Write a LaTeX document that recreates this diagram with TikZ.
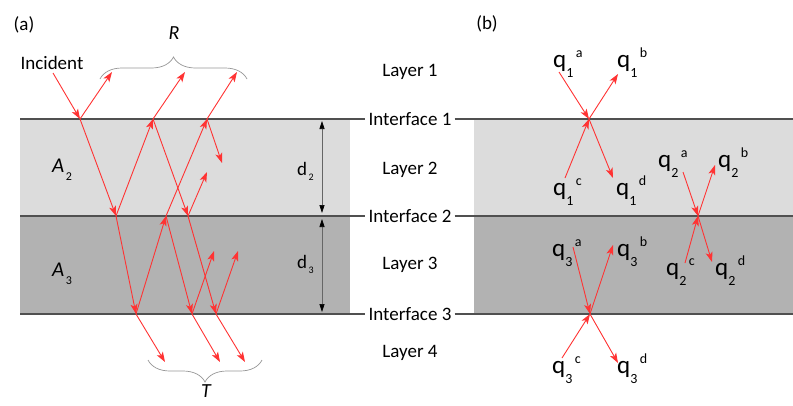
\documentclass[tikz,border=0pt]{standalone}
\usepackage{fontspec}
\setmainfont{Carlito}
\usetikzlibrary{arrows.meta,decorations.pathreplacing}
\definecolor{raycol}{RGB}{255,51,51}
\definecolor{lightlayer}{RGB}{220,220,220}
\definecolor{darklayer}{RGB}{178,178,178}
\definecolor{ifcol}{RGB}{80,80,80}
\definecolor{bracecol}{RGB}{150,150,150}
\newcommand{\qlab}[2]{{\fontsize{25}{25}\selectfont q}\raisebox{-10pt}{\fontsize{14}{14}\selectfont #1}\hspace{2.5pt}\raisebox{10pt}{\fontsize{14}{14}\selectfont #2}}
\newcommand{\Alab}[1]{{\fontsize{21}{21}\selectfont\itshape A}\hspace{1.5pt}\raisebox{-8pt}{\fontsize{12}{12}\selectfont #1}}
\newcommand{\dlab}[1]{d\hspace{1.5pt}\raisebox{-5pt}{\fontsize{10}{10}\selectfont #1}}
\begin{document}
\begin{tikzpicture}[x=1pt,y=-1pt,
  font=\fontsize{19}{22}\selectfont,
  raystyle/.style={draw=raycol, line width=0.9pt, -{Stealth[length=10pt,width=7pt,inset=2.5pt]}},
  ifline/.style={draw=ifcol, line width=1.3pt},
  iflabel/.style={inner sep=3pt, fill=white},
  dim/.style={draw=black!60, line width=0.6pt, {Triangle[length=8pt,width=5pt,color=black]}-{Triangle[length=8pt,width=5pt,color=black]}},
  bracestyle/.style={draw=bracecol, line width=0.7pt, decorate, decoration={brace, amplitude=22pt}},
  qnode/.style={anchor=base west, inner sep=0pt},
  lab/.style={inner sep=0pt}]
\useasboundingbox (0,0) rectangle (793,405);

% layers
\fill[lightlayer] (20,119) rectangle (350,216);
\fill[darklayer] (20,216) rectangle (350,314);
\fill[lightlayer] (474,119) rectangle (793,216);
\fill[darklayer] (474,216) rectangle (793,314);

% labels of interfaces and layers
\node[iflabel] (if1) at (410,119) {Interface 1};
\node[iflabel] (if2) at (410,216) {Interface 2};
\node[iflabel] (if3) at (410,314) {Interface 3};
\node[lab] (ly1) at (410,72) {Layer 1};
\node[lab] (ly2) at (410,170) {Layer 2};
\node[lab] (ly3) at (410,265) {Layer 3};
\node[lab] (ly4) at (410,353) {Layer 4};

\coordinate (L1) at (20,119); \coordinate (E1) at (793,119);
\coordinate (L2) at (20,216); \coordinate (E2) at (793,216);
\coordinate (L3) at (20,314); \coordinate (E3) at (793,314);
\draw[ifline] (L1) -- (if1.west); \draw[ifline] (if1.east) -- (E1);
\draw[ifline] (L2) -- (if2.west); \draw[ifline] (if2.east) -- (E2);
\draw[ifline] (L3) -- (if3.west); \draw[ifline] (if3.east) -- (E3);

% panel labels
\node[lab] (pa) at (24,25) {(a)};
\node[lab] (pb) at (487,24) {(b)};
\node[lab] (inc) at (52,63) {Incident};
\node[lab] (Rl) at (174,33) {\fontsize{20}{20}\selectfont\itshape R};
\node[lab] (Tl) at (206,391) {\fontsize{20}{20}\selectfont\itshape T};
\node[qnode] (A2) at (52,172) {\Alab{2}};
\node[qnode] (A3) at (52,276) {\Alab{3}};
\node[qnode] (d2) at (297,175) {\dlab{2}};
\node[qnode] (d3) at (297,268) {\dlab{3}};

% thickness arrows
\coordinate (d2t) at (322,121); \coordinate (d2b) at (322,213);
\coordinate (d3t) at (322,219); \coordinate (d3b) at (322,312);
\draw[dim] (d2t) -- (d2b);
\draw[dim] (d3t) -- (d3b);

% braces
\coordinate (Rbl) at (100,79); \coordinate (Rbr) at (247,79);
\coordinate (Tbl) at (148,360); \coordinate (Tbr) at (262,360);
\draw[bracestyle] (Rbl) -- (Rbr);
\draw[bracestyle] (Tbr) -- (Tbl);

% rays (a)
\coordinate (P0) at (53,73);
\coordinate (A1) at (80,119);
\coordinate (R1) at (112,72);
\coordinate (B1) at (116,216);
\coordinate (Aa) at (153,119);
\coordinate (R2) at (185,72);
\coordinate (B2) at (188,216);
\coordinate (C1) at (136,314);
\coordinate (B3) at (166,216);
\coordinate (Ab) at (207,119);
\coordinate (R3) at (237,72);
\coordinate (S1) at (222,163);
\coordinate (S2) at (207,172);
\coordinate (C2) at (192,314);
\coordinate (C3) at (216,314);
\coordinate (S3) at (214,251);
\coordinate (S4) at (238,251);
\coordinate (T1) at (165,362);
\coordinate (T2) at (220,362);
\coordinate (T3) at (245,362);

\draw[raystyle] (P0) -- (A1);
\draw[raystyle] (A1) -- (R1);
\draw[raystyle] (A1) -- (B1);
\draw[raystyle] (B1) -- (Aa);
\draw[raystyle] (Aa) -- (R2);
\draw[raystyle] (Aa) -- (B2);
\draw[raystyle] (B1) -- (C1);
\draw[raystyle] (C1) -- (B3);
\draw[raystyle] (B3) -- (Ab);
\draw[raystyle] (Ab) -- (R3);
\draw[raystyle] (Ab) -- (S1);
\draw[raystyle] (B2) -- (S2);
\draw[raystyle] (B2) -- (C3);
\draw[raystyle] (B3) -- (C2);
\draw[raystyle] (C2) -- (S3);
\draw[raystyle] (C3) -- (S4);
\draw[raystyle] (C1) -- (T1);
\draw[raystyle] (C2) -- (T2);
\draw[raystyle] (C3) -- (T3);

% (b) labels
\node[qnode] (q1a) at (553,67) {\qlab{1}{a}};
\node[qnode] (q1b) at (617,67) {\qlab{1}{b}};
\node[qnode] (q1c) at (553,195) {\qlab{1}{c}};
\node[qnode] (q1d) at (616,195) {\qlab{1}{d}};
\node[qnode] (q2a) at (658,167) {\qlab{2}{a}};
\node[qnode] (q2b) at (718,167) {\qlab{2}{b}};
\node[qnode] (q2c) at (666,275) {\qlab{2}{c}};
\node[qnode] (q2d) at (715,275) {\qlab{2}{d}};
\node[qnode] (q3a) at (552,256) {\qlab{3}{a}};
\node[qnode] (q3b) at (617,256) {\qlab{3}{b}};
\node[qnode] (q3c) at (552,373) {\qlab{3}{c}};
\node[qnode] (q3d) at (617,373) {\qlab{3}{d}};

% (b) rays
\coordinate (X1) at (589,119);
\coordinate (X2) at (698,216);
\coordinate (X3) at (590,314);
\coordinate (a1) at (559,72);  \coordinate (b1) at (618,74);
\coordinate (c1) at (565,178); \coordinate (e1) at (613,178);
\coordinate (a2) at (683,172); \coordinate (b2) at (715,165);
\coordinate (c2) at (685,263); \coordinate (e2) at (712,262);
\coordinate (a3) at (573,247); \coordinate (b3) at (613,245);
\coordinate (c3) at (562,358); \coordinate (e3) at (618,363);

\draw[raystyle] (a1) -- (X1);
\draw[raystyle] (X1) -- (b1);
\draw[raystyle] (c1) -- (X1);
\draw[raystyle] (X1) -- (e1);
\draw[raystyle] (a2) -- (X2);
\draw[raystyle] (X2) -- (b2);
\draw[raystyle] (c2) -- (X2);
\draw[raystyle] (X2) -- (e2);
\draw[raystyle] (a3) -- (X3);
\draw[raystyle] (X3) -- (b3);
\draw[raystyle] (c3) -- (X3);
\draw[raystyle] (X3) -- (e3);
\end{tikzpicture}
\end{document}
